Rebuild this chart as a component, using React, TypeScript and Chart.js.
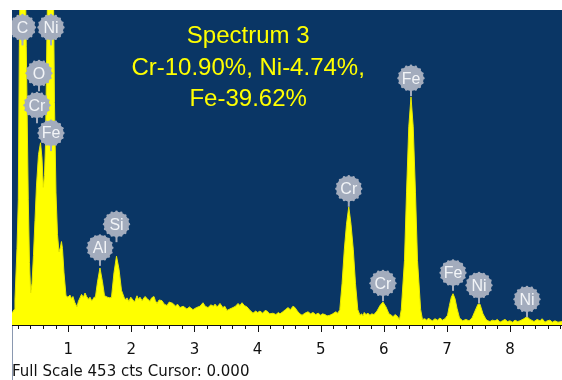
import React, { useEffect, useRef } from "react";
import { Chart, registerables } from "chart.js";

Chart.register(...registerables);

// ---- data (energy in keV, counts) ----
// L-line region (C, O, Cr L, Fe L, Ni L)
const lowEnergyKeV = [
  0.108, 0.14, 0.155, 0.187, 0.208, 0.224, 0.25, 0.274, 0.306, 0.334, 0.366, 0.385, 0.404,
  0.425, 0.448, 0.472, 0.496, 0.528, 0.56, 0.583, 0.604, 0.623, 0.639, 0.662, 0.694, 0.726,
  0.757, 0.781, 0.805, 0.829, 0.853, 0.876, 0.892, 0.908, 0.932, 0.964, 0.995,
];
const lowCounts = [
  17, 22, 36, 110, 180, 400, 600, 700, 600, 400, 180, 90, 46,
  60, 100, 150, 200, 245, 262, 240, 198, 215, 260, 420, 600, 680,
  560, 320, 190, 130, 105, 112, 120, 110, 75, 42, 40,
];

// Al, Si and continuum
const midEnergyKeV = [
  1.027, 1.05, 1.074, 1.1, 1.138, 1.16, 1.185, 1.21, 1.24, 1.265, 1.29, 1.32, 1.344, 1.37,
  1.391, 1.41, 1.43, 1.463, 1.502, 1.542, 1.574, 1.6, 1.62, 1.66, 1.685, 1.724, 1.764, 1.804,
  1.843, 1.883, 1.91, 1.93, 1.96, 1.99, 2.025, 2.05, 2.089, 2.11, 2.136, 2.17, 2.215, 2.25,
  2.294, 2.32, 2.358, 2.38, 2.406, 2.44, 2.485, 2.52, 2.564, 2.6, 2.659, 2.7, 2.73, 2.77,
  2.82, 2.88, 2.92, 2.976, 3.03, 3.087, 3.135, 3.17, 3.214, 3.26, 3.3, 3.325, 3.36, 3.404,
  3.45, 3.48, 3.515, 3.56, 3.61, 3.65, 3.69, 3.72, 3.753, 3.79, 3.832, 3.87, 3.927, 3.97,
  4.0, 4.038, 4.08, 4.12, 4.149, 4.19, 4.244, 4.29, 4.33, 4.355, 4.4, 4.44, 4.482, 4.52,
  4.56, 4.593, 4.63, 4.67, 4.704, 4.75, 4.799, 4.84, 4.878, 4.92, 4.96, 5.0, 5.03, 5.068,
  5.1, 5.146, 5.19, 5.24, 5.27,
];
const midCounts = [
  43, 38, 41, 33, 26, 34, 39, 44, 40, 46, 41, 37, 40, 35,
  37, 40, 40, 62, 82, 62, 42, 41, 40, 39, 40, 75, 99, 80,
  50, 40, 36, 39, 34, 40, 36, 33, 42, 37, 40, 35, 41, 38,
  34, 39, 41, 35, 31, 36, 35, 30, 28, 33, 31, 27, 30, 25,
  27, 23, 26, 22, 25, 27, 32, 27, 25, 29, 27, 30, 26, 31,
  25, 27, 21, 23, 25, 27, 31, 28, 32, 28, 26, 22, 17, 20,
  18, 20, 17, 21, 20, 16, 17, 15, 18, 16, 19, 22, 25, 22,
  27, 25, 20, 16, 14, 17, 19, 16, 18, 15, 17, 14, 16, 15,
  13, 14, 16, 19, 17,
];

// K-line region (Cr, Fe, Ni)
const highEnergyKeV = [
  5.303, 5.339, 5.374, 5.409, 5.445, 5.48, 5.517, 5.551, 5.588, 5.623, 5.65, 5.67, 5.69,
  5.718, 5.75, 5.78, 5.81, 5.844, 5.892, 5.94, 5.987, 6.035, 6.082, 6.12, 6.146, 6.18,
  6.209, 6.249, 6.277, 6.328, 6.36, 6.396, 6.431, 6.466, 6.502, 6.534, 6.584, 6.613, 6.65,
  6.68, 6.71, 6.732, 6.77, 6.811, 6.85, 6.89, 6.93, 6.97, 7.01, 7.04, 7.07, 7.097, 7.128,
  7.16, 7.2, 7.25, 7.3, 7.35, 7.398, 7.445, 7.493, 7.524, 7.572, 7.62, 7.65, 7.683, 7.72,
  7.762, 7.8, 7.841, 7.88, 7.921, 7.96, 8.0, 8.04, 8.079, 8.12, 8.158, 8.221, 8.269, 8.317,
  8.38, 8.43, 8.475, 8.51, 8.554, 8.59, 8.634, 8.67, 8.713, 8.76, 8.824,
];
const highCounts = [
  22, 60, 108, 145, 170, 145, 108, 60, 22, 14, 16, 13, 18,
  15, 17, 14, 16, 15, 20, 28, 33, 26, 16, 14, 12, 15,
  13, 8, 22, 93, 190, 285, 328, 285, 190, 93, 22, 8, 9,
  7, 10, 8, 6, 9, 7, 10, 7, 9, 14, 28, 40, 45, 38,
  24, 10, 6, 8, 6, 10, 20, 30, 30, 16, 8, 6, 5, 7,
  6, 8, 4, 6, 8, 5, 6, 4, 7, 5, 6, 9, 12, 8,
  5, 8, 6, 9, 4, 6, 7, 4, 6, 4, 5,
];

const peakLabels = ["C", "Ni", "O", "Cr", "Fe", "Al", "Si", "Cr", "Cr", "Fe", "Fe", "Ni", "Ni"];
const peakLabelEnergyKeV = [0.274, 0.726, 0.536, 0.504, 0.726, 1.502, 1.764, 5.445, 5.987, 6.431, 7.097, 7.509, 8.269];
const peakLabelCounts = [428, 428, 362, 316, 276, 111, 145, 196, 60, 355, 75, 57, 37];

const titleLines = ["Spectrum 3", "Cr-10.90%, Ni-4.74%,", "Fe-39.62%"];
const fullScaleCounts = 453;
const cursorText = "0.000";
const energyMinKeV = 0.108;
const energyMaxKeV = 8.824;
const majorTickStepKeV = 1;
const minorTickStepKeV = 0.2;

// ---- drawing plugin ----
const edsPlugin = {
  id: "edsDecor",
  beforeDraw(chart: any) {
    const { ctx, chartArea: a } = chart;
    ctx.save();
    ctx.fillStyle = "#ffffff";
    ctx.fillRect(0, 0, chart.width, chart.height);
    ctx.fillStyle = "#0a3665";
    ctx.fillRect(a.left, a.top, a.right - a.left, a.bottom - a.top);
    ctx.restore();
  },
  afterDatasetsDraw(chart: any) {
    const { ctx, chartArea: a } = chart;
    const xs = chart.scales.x;
    const ys = chart.scales.y;
    ctx.save();
    ctx.beginPath();
    ctx.rect(a.left, a.top, a.right - a.left, a.bottom - a.top);
    ctx.clip();

    // title
    ctx.fillStyle = "#ffff00";
    ctx.font = '24px "Liberation Sans", Arial, sans-serif';
    ctx.textAlign = "center";
    ctx.textBaseline = "alphabetic";
    const tx = xs.getPixelForValue(3.85);
    const baselines = [43, 75, 106];
    titleLines.forEach((t, i) => ctx.fillText(t, tx, baselines[i]));

    // peak labels
    const gray = "#a3acbd";
    peakLabels.forEach((name, i) => {
      const cx = xs.getPixelForValue(peakLabelEnergyKeV[i]);
      const cy = ys.getPixelForValue(peakLabelCounts[i]);
      ctx.strokeStyle = gray;
      ctx.lineWidth = 2;
      ctx.beginPath();
      ctx.moveTo(cx, cy);
      ctx.lineTo(cx, cy + 18);
      ctx.stroke();
      ctx.fillStyle = gray;
      ctx.beginPath();
      ctx.arc(cx, cy, 12.5, 0, Math.PI * 2);
      ctx.fill();
      for (let k = 0; k < 16; k++) {
        const ang = (k / 16) * Math.PI * 2;
        ctx.beginPath();
        ctx.arc(cx + Math.cos(ang) * 12.3, cy + Math.sin(ang) * 12.3, 1.3, 0, Math.PI * 2);
        ctx.fill();
      }
      ctx.fillStyle = "#f2f4f7";
      ctx.font = '16px "Liberation Sans", Arial, sans-serif';
      ctx.textAlign = "center";
      ctx.textBaseline = "middle";
      ctx.fillText(name, cx, cy + 1);
    });
    ctx.restore();
  },
  afterDraw(chart: any) {
    const { ctx, chartArea: a } = chart;
    const xs = chart.scales.x;
    ctx.save();
    ctx.strokeStyle = "#8a98b0";
    ctx.lineWidth = 1;
    ctx.beginPath();
    ctx.moveTo(a.left + 0.5, a.bottom);
    ctx.lineTo(a.left + 0.5, chart.height);
    ctx.stroke();
    ctx.strokeStyle = "#111111";
    ctx.beginPath();
    ctx.moveTo(a.left, a.bottom + 0.5);
    ctx.lineTo(a.right, a.bottom + 0.5);
    ctx.stroke();
    const nMinor = Math.floor(energyMaxKeV / minorTickStepKeV);
    for (let k = 1; k <= nMinor; k++) {
      const v = k * minorTickStepKeV;
      if (v < energyMinKeV) continue;
      const isMajor = Math.abs(v / majorTickStepKeV - Math.round(v / majorTickStepKeV)) < 1e-6;
      const px = Math.round(xs.getPixelForValue(v)) + 0.5;
      ctx.beginPath();
      ctx.moveTo(px, a.bottom + 1);
      ctx.lineTo(px, a.bottom + (isMajor ? 7 : 4));
      ctx.stroke();
    }
    ctx.fillStyle = "#111111";
    ctx.font = '15px "DejaVu Sans", sans-serif';
    ctx.textAlign = "left";
    ctx.textBaseline = "alphabetic";
    ctx.fillText(`Full Scale ${fullScaleCounts} cts Cursor: ${cursorText}`, a.left, 376);
    ctx.restore();
  },
};

export default function App() {
  const canvasRef = useRef<HTMLCanvasElement | null>(null);

  useEffect(() => {
    if (!canvasRef.current) return;
    const energies = [...lowEnergyKeV, ...midEnergyKeV, ...highEnergyKeV];
    const counts = [...lowCounts, ...midCounts, ...highCounts];
    const data = energies.map((e, i) => ({ x: e, y: counts[i] }));
    const chart = new Chart(canvasRef.current, {
      type: "line",
      data: {
        datasets: [
          {
            data,
            fill: "origin",
            backgroundColor: "#ffff00",
            borderColor: "#e8e800",
            borderWidth: 1,
            pointRadius: 0,
            tension: 0,
            clip: 0,
          } as any,
        ],
      },
      options: {
        animation: false,
        responsive: false,
        devicePixelRatio: 1,
        layout: { padding: { left: 12, top: 10, right: 0, bottom: 0 } },
        plugins: { legend: { display: false }, tooltip: { enabled: false }, title: { display: false } },
        scales: {
          x: {
            type: "linear",
            min: energyMinKeV,
            max: energyMaxKeV,
            grid: { display: false, drawTicks: false },
            border: { display: false },
            ticks: {
              stepSize: majorTickStepKeV,
              includeBounds: false,
              autoSkip: false,
              maxRotation: 0,
              padding: 16,
              color: "#111111",
              font: { family: '"DejaVu Sans", sans-serif', size: 15 },
              callback: (v: any) => String(Math.round(Number(v))),
            },
            afterFit: (s: any) => {
              s.height = 55;
            },
          },
          y: { display: false, min: 0, max: fullScaleCounts },
        },
      } as any,
      plugins: [edsPlugin],
    });
    return () => chart.destroy();
  }, []);

  return (
    <div style={{ position: "absolute", left: 0, top: 0, width: 562, height: 380 }}>
      <canvas ref={canvasRef} width={562} height={380} style={{ display: "block" }} />
    </div>
  );
}
